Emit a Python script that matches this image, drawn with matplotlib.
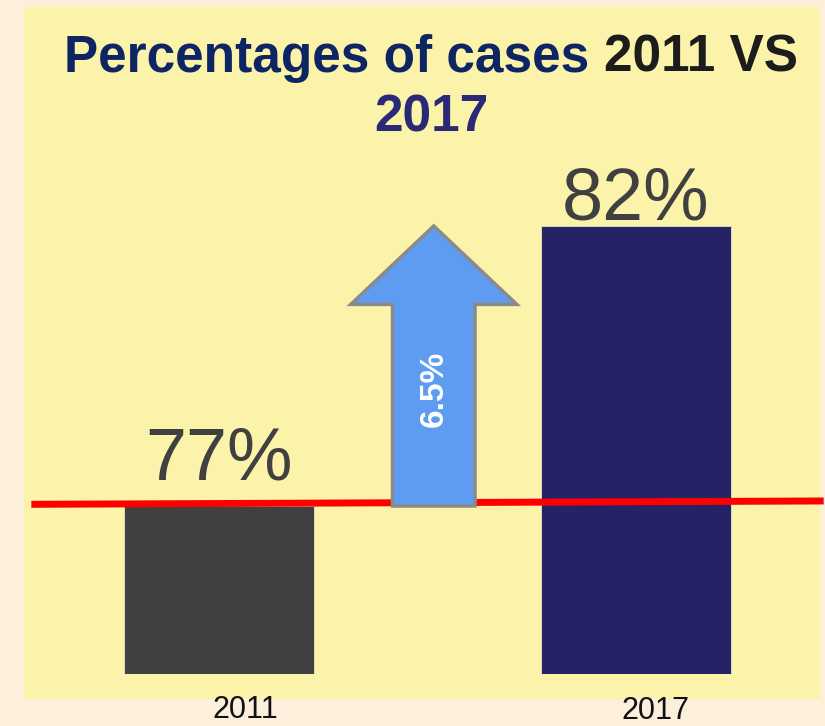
import matplotlib
matplotlib.use("Agg")
import matplotlib.pyplot as plt
from matplotlib.patches import Rectangle, Polygon
from matplotlib.transforms import offset_copy

# Data
years = ["2011", "2017"]
values = [77, 82]
bar_colors = ["#404040", "#232366"]
change_label = "6.5%"

plt.rcParams["font.family"] = ["Liberation Sans", "DejaVu Sans"]

W, H = 825, 726
fig = plt.figure(figsize=(W / 100, H / 100), dpi=100)
fig.patch.set_facecolor("#FCF0DD")

# yellow panel
fig.patches.append(Rectangle((24 / W, 27 / H), 796 / W, 692 / H,
                             transform=fig.transFigure, facecolor="#FBF3AA",
                             edgecolor="none", zorder=-1))

ax = fig.add_axes([24 / W, 52 / H, 796 / W, 667 / H])
ax.set_zorder(1)
ax.set_facecolor("none")
ax.set_xlim(-0.4676, 1.4412)
ax.set_ylim(74, 74 + 667 / 56)
for s in ax.spines.values():
    s.set_visible(False)
ax.set_xticks([])
ax.set_yticks([])

x = [0, 1]
ax.bar(x, [v - 74 for v in values], bottom=74, width=0.456,
       color=bar_colors, edgecolor="#E8E4C8", linewidth=0.6, zorder=2)

# value labels above bars
lab_off = [27, 7]
for xi, v, off in zip(x, values, lab_off):
    tr = offset_copy(ax.transData, fig=fig, x=0, y=off, units="dots")
    ax.text(xi, v, f"{v}%", transform=tr, ha="center", va="baseline",
            fontsize=53, color="#404040", zorder=3)

# year labels under bars
year_off = [(26, -44), (19, -45)]
for xi, yr, (dx, dy) in zip(x, years, year_off):
    tr = offset_copy(ax.transData, fig=fig, x=dx, y=dy, units="dots")
    ax.text(xi, 74, yr, transform=tr, ha="center", va="baseline",
            fontsize=22, color="#111111", clip_on=False)

# red reference line at the 2011 level
ax.plot([-0.45, 1.45], [values[0] + 0.03, values[0] + 0.09], color="#FF0000",
        lw=5, solid_capstyle="butt", zorder=4, clip_on=False)

# arrow from 2011 level to 2017 level
ac = 0.515
sw, hw, hl = 0.099, 0.199, 1.4
lo, hi = values[0], values[1]
pts = [(ac - sw, lo), (ac + sw, lo), (ac + sw, hi - hl), (ac + hw, hi - hl),
       (ac, hi), (ac - hw, hi - hl), (ac - sw, hi - hl)]
ax.add_patch(Polygon(pts, closed=True, facecolor="#5E9CF2",
                     edgecolor="#8A8A8A", linewidth=2.5, zorder=5))
ax.text(ac, (lo + hi - hl) / 2 + 0.3, change_label, rotation=90, ha="center",
        va="center", fontsize=24, color="white", fontweight="bold", zorder=6)

# title with mixed colours
fig.canvas.draw()
r = fig.canvas.get_renderer()
fs = 37
cx = 431 / W
y1 = 1 - 72 / H
y2 = 1 - 132 / H
t1 = fig.text(0, y1, "Percentages of cases ", fontsize=fs, fontweight="bold",
              color="#0E2564", va="baseline", ha="left")
t2 = fig.text(0, y1, "2011 VS", fontsize=fs, fontweight="bold",
              color="#1C1C1C", va="baseline", ha="left")
w1 = t1.get_window_extent(r).width / W
w2 = t2.get_window_extent(r).width / W
x0 = cx - (w1 + w2) / 2
t1.set_x(x0)
t2.set_x(x0 + w1)
fig.text(cx, y2, "2017", fontsize=fs, fontweight="bold", color="#2A2877",
         va="baseline", ha="center")

fig.savefig("out.png", dpi=100, facecolor=fig.get_facecolor())
